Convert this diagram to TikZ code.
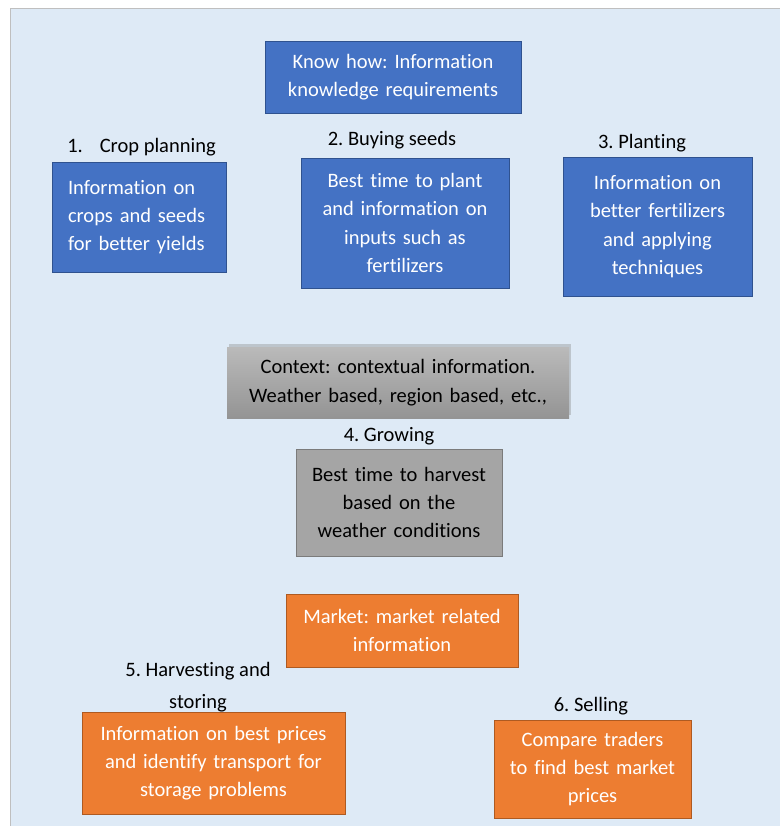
\documentclass[tikz,border=0pt]{standalone}
\usepackage{fontspec}
\setmainfont{Carlito}[Ligatures={NoCommon}]
\usepackage{tikz}
\usetikzlibrary{shadows}
\frenchspacing
\definecolor{panelbg}{HTML}{DEEAF6}
\definecolor{kblue}{HTML}{4472C4}
\definecolor{kblueline}{HTML}{2F528F}
\definecolor{korange}{HTML}{ED7D31}
\definecolor{korangeline}{HTML}{AE5A21}
\definecolor{kgrey}{HTML}{A5A5A5}
\definecolor{kgreyline}{HTML}{7B7B7B}
\newcommand{\stagelabel}[4]{\node[stagetext] (#1) at (#2,#3) {#4};}
\newcommand{\infobox}[7]{\node[#2,minimum width=#5pt,minimum height=#6pt,text width=#5pt-12pt] (#1) at (#3,#4) {#7};}

\begin{document}
\begin{tikzpicture}[x=1pt,y=-1pt,
  stagetext/.style={font=\fontsize{20.5}{32}\selectfont,align=center,inner sep=0pt},
  boxbase/.style={rectangle,line width=0.8pt,inner xsep=6pt,inner ysep=0pt,align=center,
    font=\fontsize{20.5}{28.3}\selectfont},
  bluebox/.style={boxbase,fill=kblue,draw=kblueline,text=white},
  orangebox/.style={boxbase,fill=korange,draw=korangeline,text=white},
  greybox/.style={boxbase,fill=kgrey,draw=kgreyline,text=black},
  contextbox/.style={boxbase,top color=black!27,bottom color=black!42,draw=none,text=black,
    drop shadow={shadow xshift=2pt,shadow yshift=3pt,opacity=0.35}}]
\useasboundingbox (0,0) rectangle (780,826);
\fill[white] (0,0) rectangle (780,826);
\fill[panelbg] (10,8) rectangle (780,826);
\draw[black!25,line width=0.8pt] (10,826) -- (10,8) -- (780,8);

\infobox{knowhow}{bluebox}{393}{77}{256}{72}{Know how: Information\\knowledge requirements}

\stagelabel{lplan}{141.5}{147}{1.\hspace{17pt}Crop planning}
\node[bluebox,align=left,inner xsep=16pt,minimum width=174pt,minimum height=110pt,text width=142pt]
  (plan) at (139,217) {Information on\\crops and seeds\\for better yields\\[-6pt]};

\stagelabel{lseeds}{392}{140}{2. Buying seeds}
\infobox{seeds}{bluebox}{405}{223}{208}{130}{Best time to plant\\and information on\\inputs such as\\fertilizers}

\stagelabel{lplant}{642}{143}{3. Planting}
\infobox{plant}{bluebox}{657.5}{226.5}{189}{139}{Information on\\better fertilizers\\and applying\\techniques}

\infobox{context}{contextbox}{398}{382.5}{342}{71}{Context: contextual information.\\Weather based, region based, etc.,}

\stagelabel{lgrow}{389}{436}{4. Growing}
\infobox{grow}{greybox}{399}{502.5}{206}{107}{Best time to harvest\\based on the\\weather conditions}

\infobox{market}{orangebox}{402}{630.5}{232}{73}{Market: market related\\information}

\stagelabel{lharvest}{198}{687}{5. Harvesting and\\storing}
\infobox{harvest}{orangebox}{213.5}{763}{263}{102}{Information on best prices\\and identify transport for\\storage problems}

\stagelabel{lsell}{591}{706}{6. Selling}
\infobox{sell}{orangebox}{592.5}{769}{197}{98}{Compare traders\\to find best market\\prices}
\end{tikzpicture}
\end{document}
